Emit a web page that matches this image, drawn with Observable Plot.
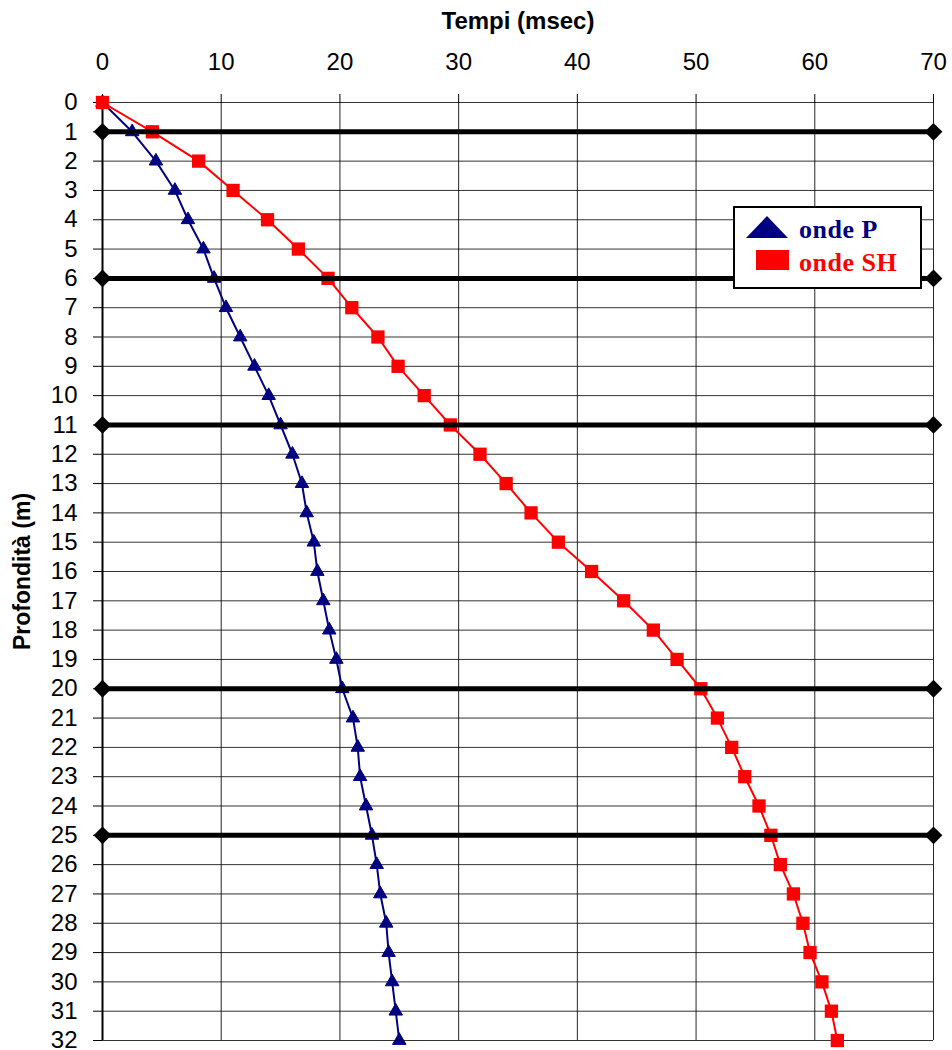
<!DOCTYPE html>
<html>
<head>
<meta charset="utf-8">
<script src="https://cdn.jsdelivr.net/npm/d3@7"></script>
<script src="https://cdn.jsdelivr.net/npm/@observablehq/plot@0.6"></script>
<style>
  html, body { margin: 0; padding: 0; background: #fff; }
  #wrap { position: relative; width: 952px; height: 1050px; overflow: hidden; }
  #legend { position: absolute; left: 733px; top: 206px; width: 189px; height: 83px;
            box-sizing: border-box; border: 2px solid #000; background: #fff; }
  #legend svg { display: block; }
</style>
</head>
<body>
<div id="wrap"></div>
<script>
// Depths (m)
const depths = d3.range(0, 33);
// P-wave travel times (msec)
const tP = [0, 2.5, 4.5, 6.1, 7.2, 8.5, 9.4, 10.4, 11.6, 12.8, 14.0, 15.0, 16.0, 16.8, 17.2, 17.8, 18.1, 18.6, 19.1, 19.7, 20.2, 21.1, 21.5, 21.7, 22.2, 22.7, 23.1, 23.4, 23.9, 24.1, 24.4, 24.7, 25.0];
// SH-wave travel times (msec)
const tSH = [0, 4.2, 8.1, 11.0, 13.9, 16.5, 19.0, 21.0, 23.2, 24.9, 27.1, 29.3, 31.8, 34.0, 36.1, 38.4, 41.2, 43.9, 46.4, 48.4, 50.4, 51.8, 53.0, 54.1, 55.3, 56.3, 57.1, 58.2, 59.0, 59.6, 60.6, 61.4, 61.9];
// Layer boundaries (m)
const layers = [1, 6, 11, 20, 25];
// Axis ticks
const xTicks = [0, 10, 20, 30, 40, 50, 60, 70];
const yTicks = depths;
const seriesNames = ["onde P", "onde SH"];

const dataP = depths.map((d, i) => ({depth: d, t: tP[i]}));
const dataSH = depths.map((d, i) => ({depth: d, t: tSH[i]}));

const navy = "#000080", red = "#ff0000";

const chart = Plot.plot({
  width: 952,
  height: 1050,
  marginTop: 102,
  marginLeft: 102,
  marginRight: 19,
  marginBottom: 10,
  style: {fontFamily: "'Liberation Sans', Arial, sans-serif", background: "#fff", color: "#000"},
  x: {domain: [0, 70]},
  y: {domain: [0, 32], reverse: true},
  marks: [
    Plot.gridY(yTicks, {stroke: "#000", strokeOpacity: 0.8, strokeWidth: 1}),
    Plot.gridX(xTicks, {stroke: "#000", strokeOpacity: 0.85, strokeWidth: 1}),
    Plot.ruleX([0], {stroke: "#000", strokeWidth: 2}),
    Plot.axisX({anchor: "top", ticks: xTicks, tickSize: 9, tickPadding: 24, fontSize: 24, label: null, stroke: "#000"}),
    Plot.axisY({anchor: "left", ticks: yTicks, tickSize: 9, tickPadding: 16, fontSize: 24, label: null, tickFormat: d3.format("d")}),
    Plot.text(["Tempi (msec)"], {frameAnchor: "top", dy: -91, fontWeight: "bold", fontSize: 24, fill: "#000"}),
    Plot.text(["Profondità (m)"], {frameAnchor: "left", textAnchor: "middle", dx: -80, rotate: -90, fontWeight: "bold", fontSize: 23, fill: "#000"}),
    Plot.line(dataP, {x: "t", y: "depth", stroke: navy, strokeWidth: 2}),
    Plot.dot(dataP, {x: "t", y: "depth", symbol: "triangle", r: 5, fill: navy, stroke: navy, strokeWidth: 1}),
    Plot.line(dataSH, {x: "t", y: "depth", stroke: red, strokeWidth: 2}),
    Plot.dot(dataSH, {x: "t", y: "depth", symbol: "square", r: 7.5, fill: red, stroke: "none"}),
    Plot.ruleY(layers, {stroke: "#000", strokeWidth: 5}),
    Plot.dot(layers, {y: d => d, frameAnchor: "left", symbol: "diamond2", r: 8, fill: "#000"}),
    Plot.dot(layers, {y: d => d, frameAnchor: "right", symbol: "diamond2", r: 8, fill: "#000"})
  ]
});

const wrap = document.getElementById("wrap");
wrap.appendChild(chart);

// Legend
const legend = document.createElement("div");
legend.id = "legend";
legend.innerHTML = `<svg width="185" height="79" xmlns="http://www.w3.org/2000/svg">
  <polygon points="11,30 32,8 53,30" fill="${navy}"/>
  <rect x="21" y="42" width="33" height="20" fill="${red}"/>
  <text x="64" y="30" font-family="'Liberation Serif', 'Times New Roman', serif" font-weight="bold" font-size="26" letter-spacing="0.5" fill="${navy}">${seriesNames[0]}</text>
  <text x="64" y="63" font-family="'Liberation Serif', 'Times New Roman', serif" font-weight="bold" font-size="26" letter-spacing="0.5" fill="${red}">${seriesNames[1]}</text>
</svg>`;
wrap.appendChild(legend);
</script>
</body>
</html>
